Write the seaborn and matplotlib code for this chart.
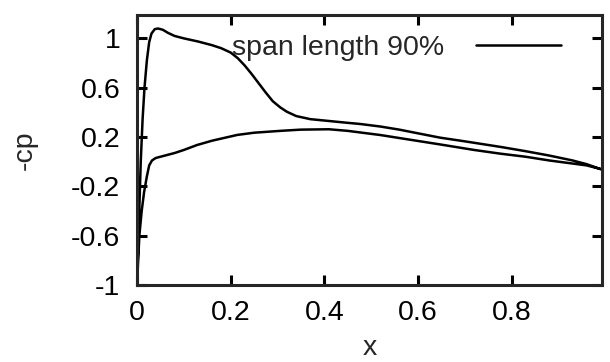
import numpy as np
import pandas as pd
import matplotlib
matplotlib.use("Agg")
import matplotlib.pyplot as plt
import seaborn as sns

# upper surface (suction side)
x_upper = [0.0, 0.004, 0.008, 0.012, 0.016, 0.021, 0.026, 0.031, 0.038, 0.045,
           0.055, 0.066, 0.08, 0.10, 0.13, 0.16, 0.18, 0.20, 0.215, 0.23,
           0.245, 0.26, 0.275, 0.29, 0.306, 0.32, 0.34, 0.37, 0.41, 0.45,
           0.476, 0.52, 0.56, 0.60, 0.647, 0.70, 0.776, 0.83, 0.88, 0.93,
           0.96, 0.99]
cp_upper = [-1.0, -0.5, 0.0, 0.35, 0.6, 0.82, 0.97, 1.04, 1.075, 1.08,
            1.07, 1.045, 1.02, 1.0, 0.975, 0.945, 0.92, 0.885, 0.84, 0.78,
            0.71, 0.635, 0.56, 0.49, 0.44, 0.405, 0.37, 0.345, 0.33, 0.315,
            0.306, 0.285, 0.26, 0.23, 0.195, 0.165, 0.12, 0.085, 0.05, 0.01,
            -0.02, -0.06]

# lower surface
x_lower = [0.0, 0.005, 0.010, 0.015, 0.021, 0.026, 0.032, 0.040, 0.056, 0.08,
           0.10, 0.128, 0.16, 0.214, 0.25, 0.306, 0.35, 0.41, 0.45, 0.52,
           0.58, 0.647, 0.72, 0.776, 0.83, 0.88, 0.93, 0.96, 0.99]
cp_lower = [-1.0, -0.6, -0.4, -0.25, -0.12, -0.03, 0.01, 0.03, 0.046, 0.07,
            0.095, 0.135, 0.17, 0.217, 0.235, 0.25, 0.26, 0.263, 0.25, 0.216,
            0.18, 0.14, 0.095, 0.065, 0.04, 0.01, -0.015, -0.03, -0.06]

y_ticks = [-1, -0.6, -0.2, 0.2, 0.6, 1]
x_ticks = [0, 0.2, 0.4, 0.6, 0.8]

# one closed loop: lower surface from trailing edge to nose, then upper surface
df = pd.DataFrame({
    "x": x_lower[::-1] + x_upper,
    "-cp": cp_lower[::-1] + cp_upper,
})

sns.set_style("ticks")
plt.rcParams["font.family"] = ["Liberation Sans", "DejaVu Sans"]

fig = plt.figure(figsize=(6.1, 3.62), dpi=100)
ax = fig.add_axes([0.2246, 0.2127, 0.7624, 0.746])

sns.lineplot(data=df, x="x", y="-cp", sort=False, estimator=None,
             color="black", linewidth=1.8, label="span length 90%", ax=ax)

ax.set_xlim(0, 0.993)
ax.set_ylim(-1, 1.19)
ax.set_xticks(x_ticks)
ax.set_xticklabels(["0", "0.2", "0.4", "0.6", "0.8"])
ax.set_yticks(y_ticks)
ax.set_yticklabels(["-1", "-0.6", "-0.2", "0.2", "0.6", "1"])

for s in ax.spines.values():
    s.set_visible(True)
    s.set_linewidth(2.2)
ax.tick_params(direction="in", length=7, width=2.2, top=True, right=True,
               labelsize=20.5, colors="black")
ax.tick_params(axis="x", pad=11)
ax.tick_params(axis="y", pad=12)

ax.set_xlabel("x", fontsize=20.5, labelpad=6)
ax.set_ylabel("-cp", fontsize=20.5, labelpad=24)

ax.legend(loc="upper right", frameon=False, markerfirst=False, fontsize=20.5,
          handlelength=3.0, handletextpad=1.1, borderaxespad=0.3,
          bbox_to_anchor=(0.955, 1.0))

fig.savefig("out.png", dpi=100)
